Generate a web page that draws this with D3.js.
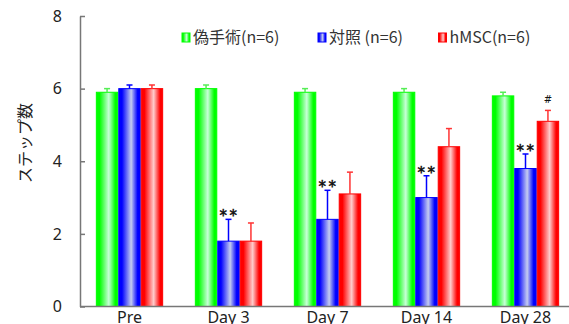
<!DOCTYPE html>
<html>
<head>
<meta charset="utf-8">
<script src="https://cdn.jsdelivr.net/npm/d3@7"></script>
<style>
  html, body { margin: 0; padding: 0; background: #fff; }
  svg { display: block; font-family: "Noto Sans CJK JP", "Noto Sans", sans-serif; }
</style>
</head>
<body>
<svg id="chart" width="569" height="324"></svg>
<script>
// Time points and groups
const categories = ["Pre", "Day 3", "Day 7", "Day 14", "Day 28"];
const seriesNames = ["偽手術(n=6)", "対照 (n=6)", "hMSC(n=6)"];

// Mean step counts per group
const shamValues    = [5.9, 6.0, 5.9, 5.9, 5.8];
const controlValues = [6.0, 1.8, 2.4, 3.0, 3.8];
const hmscValues    = [6.0, 1.8, 3.1, 4.4, 5.1];

// Upper error (SD) per group
const shamErrors    = [0.1, 0.1, 0.1, 0.1, 0.1];
const controlErrors = [0.1, 0.6, 0.8, 0.6, 0.4];
const hmscErrors    = [0.1, 0.5, 0.6, 0.5, 0.3];

// Significance marks
const controlMarks = ["", "**", "**", "**", "**"];
const hmscMarks    = ["", "", "", "", "#"];

const yTicks = [0, 2, 4, 6, 8];

const series = [
  { name: seriesNames[0], values: shamValues,    errors: shamErrors,    marks: null,         base: "#00ff00", light: "#c8ffd8", err: "#55ee55" },
  { name: seriesNames[1], values: controlValues, errors: controlErrors, marks: controlMarks, base: "#0000ff", light: "#c4ccf0", err: "#0000ff" },
  { name: seriesNames[2], values: hmscValues,    errors: hmscErrors,    marks: hmscMarks,    base: "#ff0000", light: "#ffcccc", err: "#ff3333" }
];

const svg = d3.select("#chart");

const x0 = d3.scaleBand().domain(categories).range([80, 575]).paddingInner(0.32).paddingOuter(0.16);
const x1 = d3.scaleBand().domain(d3.range(series.length)).range([0, x0.bandwidth()]);
const y = d3.scaleLinear().domain([0, 8]).range([306.5, 16]);

// Horizontal shine gradients for the bars and legend swatches
const defs = svg.append("defs");
series.forEach((s, i) => {
  const g = defs.append("linearGradient").attr("id", "grad" + i)
    .attr("x1", "0%").attr("x2", "100%").attr("y1", "0%").attr("y2", "0%");
  g.append("stop").attr("offset", "0%").attr("stop-color", s.base);
  g.append("stop").attr("offset", "15%").attr("stop-color", s.base);
  g.append("stop").attr("offset", "58%").attr("stop-color", s.light);
  g.append("stop").attr("offset", "88%").attr("stop-color", s.base);
  g.append("stop").attr("offset", "100%").attr("stop-color", s.base);
});

// Bars
series.forEach((s, i) => {
  const g = svg.append("g");
  g.selectAll("rect").data(s.values).enter().append("rect")
    .attr("x", (d, j) => x0(categories[j]) + x1(i) + 0.5)
    .attr("y", d => y(d))
    .attr("width", x1.bandwidth() - 1)
    .attr("height", d => y(0) - y(d))
    .attr("fill", "url(#grad" + i + ")")
    .attr("stroke", s.base)
    .attr("stroke-width", 1);
});

// Upper error bars
series.forEach((s, i) => {
  const g = svg.append("g").attr("stroke", s.err).attr("stroke-width", 1.5);
  s.values.forEach((v, j) => {
    const cx = x0(categories[j]) + x1(i) + x1.bandwidth() / 2;
    const top = y(v + s.errors[j]);
    g.append("line").attr("x1", cx).attr("x2", cx).attr("y1", y(v)).attr("y2", top);
    g.append("line").attr("x1", cx - 3).attr("x2", cx + 3).attr("y1", top).attr("y2", top);
  });
});

// Significance marks
series.forEach((s, i) => {
  if (!s.marks) return;
  s.values.forEach((v, j) => {
    const m = s.marks[j];
    if (!m) return;
    const cx = x0(categories[j]) + x1(i) + x1.bandwidth() / 2;
    const top = y(v + s.errors[j]);
    const isHash = m === "#";
    svg.append("text")
      .attr("x", cx + (isHash ? 0 : 1))
      .attr("y", isHash ? top - 7 : top + 2)
      .attr("text-anchor", "middle")
      .attr("font-family", "'DejaVu Sans', sans-serif")
      .attr("font-size", isHash ? 10 : 15)
      .attr("letter-spacing", isHash ? 0 : 2.5)
      .attr("fill", "#111")
      .attr("stroke", isHash ? "none" : "#111")
      .attr("stroke-width", 0.5)
      .text(m);
  });
});

// Y axis
const yAxis = d3.axisLeft(y).tickValues(yTicks).tickSize(-5).tickPadding(18).tickSizeOuter(0);
const gy = svg.append("g").attr("transform", "translate(80,0)").call(yAxis);
gy.select(".domain").attr("stroke", "#777").attr("stroke-width", 1.5);
gy.selectAll(".tick line").attr("stroke", "#777").attr("stroke-width", 1.5);
gy.selectAll(".tick text").attr("font-size", 16).attr("fill", "#222")
  .attr("font-family", "'Noto Sans', sans-serif");

// X axis
const xAxis = d3.axisBottom(x0).tickSize(0).tickPadding(5);
const gx = svg.append("g").attr("transform", `translate(0,${y(0)})`).call(xAxis);
gx.select(".domain").attr("d", `M80,0H569`).attr("stroke", "#777").attr("stroke-width", 1.5);
gx.selectAll(".tick text").attr("font-size", 16).attr("fill", "#222")
  .attr("font-family", "'Noto Sans', sans-serif");

// Y axis title
svg.append("text")
  .attr("transform", "translate(31,143) rotate(-90)")
  .attr("text-anchor", "middle")
  .attr("font-size", 16)
  .attr("fill", "#222")
  .text("ステップ数");

// Legend
const legendX = [182, 318, 438.5];
series.forEach((s, i) => {
  const g = svg.append("g").attr("transform", `translate(${legendX[i]},33)`);
  g.append("rect").attr("width", 8).attr("height", 9)
    .attr("fill", "url(#grad" + i + ")").attr("stroke", s.base).attr("stroke-width", 1);
  g.append("text").attr("x", 11).attr("y", 10)
    .attr("font-size", 16).attr("fill", "#333").text(s.name);
});
</script>
</body>
</html>
